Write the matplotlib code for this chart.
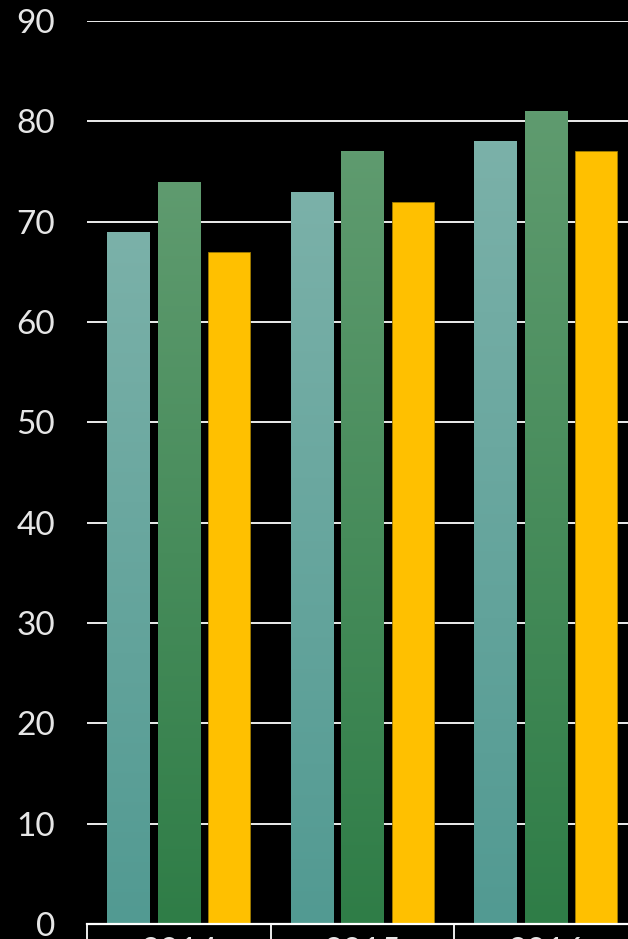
import numpy as np
import matplotlib
matplotlib.use("Agg")
import matplotlib.pyplot as plt
from matplotlib.colors import LinearSegmentedColormap
import matplotlib.transforms as mtransforms

# Chart data
years = ["2014", "2015", "2016"]
series_a = [69, 73, 78]   # teal series
series_b = [74, 77, 81]   # green series
series_c = [67, 72, 77]   # gold series
y_ticks = [0, 10, 20, 30, 40, 50, 60, 70, 80, 90]

plt.rcParams["font.family"] = ["Lato", "DejaVu Sans"]
TXT = "#E6E6E6"

fig = plt.figure(figsize=(6.28, 9.39), dpi=100, facecolor="black")
ax = fig.add_axes([87 / 628, 15 / 939, 550.5 / 628, 903 / 939])
ax.set_facecolor("black")

x = np.arange(len(years))
width = 0.229
offset = 0.275

ax.set_xlim(-0.5, 2.5)
ax.set_ylim(0, 90)

# horizontal gridlines behind the bars
ax.set_yticks(y_ticks)
ax.yaxis.grid(True, color="white", linewidth=1.3, zorder=0)
ax.set_axisbelow(True)

gradients = {
    "a": ("#7BB1A9", "#529A92"),
    "b": ("#5F9B6F", "#2F7D47"),
}

def gradient_bars(xs, vals, top_col, bot_col):
    cmap = LinearSegmentedColormap.from_list("g", [bot_col, top_col])
    bars = ax.bar(xs, vals, width=width, color=bot_col, zorder=2, linewidth=0)
    grad = np.linspace(0, 1, 256).reshape(-1, 1)
    for b in bars:
        x0, y0 = b.get_x(), b.get_y()
        im = ax.imshow(grad, cmap=cmap, origin="lower", aspect="auto",
                       extent=(x0, x0 + b.get_width(), y0, y0 + b.get_height()),
                       zorder=3)
        im.set_clip_path(b)
    return bars

gradient_bars(x - offset, series_a, *gradients["a"])
gradient_bars(x, series_b, *gradients["b"])
ax.bar(x + offset, series_c, width=width, color="#FFC000",
       edgecolor="#A07C00", linewidth=0.6, zorder=3)

ax.set_xlim(-0.5, 2.5)
ax.set_ylim(0, 90)

for s in ["top", "right", "left"]:
    ax.spines[s].set_visible(False)
ax.spines["bottom"].set_color("white")
ax.spines["bottom"].set_linewidth(1.6)
ax.spines["bottom"].set_zorder(5)

ax.tick_params(axis="y", length=0, pad=23, labelsize=24, labelcolor=TXT)
ax.tick_params(axis="x", length=0)
ax.set_xticks([])

# data-table style category cells below the axis
trans = mtransforms.blended_transform_factory(ax.transData, ax.transAxes)
for xb in [-0.5, 0.5, 1.5, 2.5]:
    ax.plot([xb, xb], [0, -0.05], transform=trans, color="white",
            linewidth=1.3, clip_on=False, zorder=5)
for xi, lab in zip(x, years):
    ax.text(xi, -0.041, lab, transform=trans, ha="center", va="baseline",
            fontsize=24, color=TXT, clip_on=False)

fig.savefig("out.png", dpi=100, facecolor="black")
